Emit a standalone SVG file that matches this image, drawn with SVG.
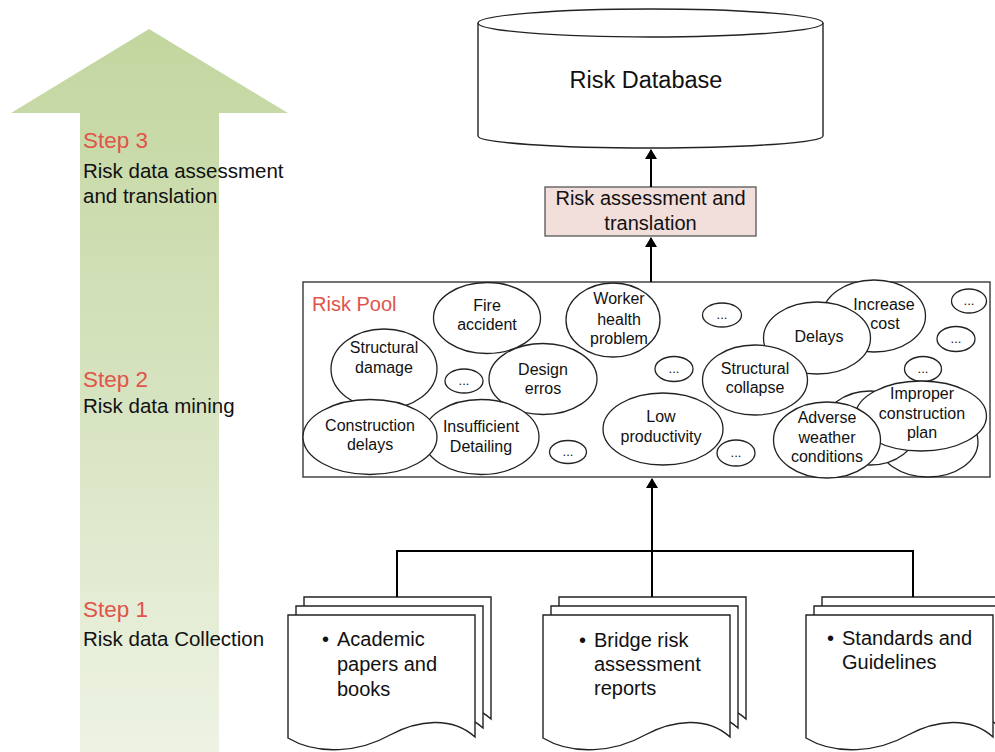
<svg xmlns="http://www.w3.org/2000/svg" width="995" height="752" viewBox="0 0 995 752">
  <defs>
    <linearGradient id="stepFill" x1="0" y1="0" x2="0" y2="1">
      <stop offset="0" stop-color="#c3d69f"/>
      <stop offset="0.5" stop-color="#d6e3bf"/>
      <stop offset="1" stop-color="#eef3e4"/>
    </linearGradient>
    <marker id="head" viewBox="0 0 10 12" refX="9" refY="6" markerWidth="10" markerHeight="12" markerUnits="userSpaceOnUse" orient="auto">
      <path d="M0,0 L10,6 L0,12 Z" fill="#000"/>
    </marker>
    <path id="doc" d="M0,0 H187 V122 C164,101 130,105 102,120 C72,137 30,141 0,123 Z"/>
  </defs>
  <style>
    text { font-family: "Liberation Sans", Arial, Helvetica, sans-serif; fill: #111; }
    .step { font-size: 22.5px; fill: #e0544a; }
    .desc { font-size: 20.5px; }
    .bub { fill: #fff; stroke: #222; stroke-width: 1.3; }
    .bt { font-size: 16px; text-anchor: middle; }
    .dots { font-size: 13px; text-anchor: middle; }
    .page { fill: #fff; stroke: #222; stroke-width: 1.4; }
    .doct { font-size: 20px; }
    .wire { fill: none; stroke: #000; stroke-width: 2; }
  </style>

  <!-- progress arrow with step captions -->
  <g id="progress">
    <path d="M149,29 L288,113 L219,113 L219,752 L80,752 L80,113 L11,113 Z" fill="url(#stepFill)"/>
    <text class="step" x="83" y="148">Step 3</text>
    <text class="desc" x="83" y="178">Risk data assessment</text>
    <text class="desc" x="83" y="203">and translation</text>
    <text class="step" x="83" y="387">Step 2</text>
    <text class="desc" x="83" y="413">Risk data mining</text>
    <text class="step" x="83" y="617">Step 1</text>
    <text class="desc" x="83" y="646">Risk data Collection</text>
  </g>

  <!-- database cylinder -->
  <g id="risk-database">
    <path d="M478,23 V136 A172.5,12 0 0 0 823,136 V23" fill="#fff" stroke="#222" stroke-width="1.4"/>
    <ellipse cx="650.5" cy="23" rx="172.5" ry="14" fill="#fff" stroke="#222" stroke-width="1.4"/>
    <text x="646" y="88" font-size="23.5" text-anchor="middle">Risk Database</text>
  </g>

  <!-- assessment step -->
  <g id="assessment">
    <rect x="545" y="187" width="211" height="49" fill="#f2dedb" stroke="#555" stroke-width="1.3"/>
    <text x="650.5" y="205" font-size="20" text-anchor="middle">Risk assessment and</text>
    <text x="650.5" y="230" font-size="20" text-anchor="middle">translation</text>
  </g>

  <!-- pool of mined risks -->
  <g id="risk-pool">
    <rect x="303" y="282" width="687" height="195" fill="#fff" stroke="#444" stroke-width="1.5"/>
    <text x="312" y="311" font-size="20" style="fill:#e0544a">Risk Pool</text>

    <ellipse class="bub" cx="487" cy="318" rx="53.5" ry="35.5"/>
    <ellipse class="bub" cx="384" cy="369" rx="53" ry="40"/>
    <ellipse class="bub" cx="613" cy="320" rx="47" ry="37"/>
    <ellipse class="bub" cx="543" cy="379" rx="54" ry="35.5"/>
    <ellipse class="bub" cx="464" cy="381" rx="19" ry="12"/>
    <ellipse class="bub" cx="481" cy="437" rx="58" ry="37.5"/>
    <ellipse class="bub" cx="370" cy="437" rx="67" ry="37.5"/>
    <ellipse class="bub" cx="568" cy="452" rx="18.5" ry="11.5"/>
    <ellipse class="bub" cx="663" cy="429" rx="60" ry="36"/>
    <ellipse class="bub" cx="722" cy="315" rx="19.5" ry="12"/>
    <ellipse class="bub" cx="674" cy="369" rx="19" ry="12.5"/>
    <ellipse class="bub" cx="736" cy="453" rx="19" ry="13"/>
    <ellipse class="bub" cx="874" cy="316" rx="51.5" ry="36"/>
    <ellipse class="bub" cx="817" cy="338" rx="53.5" ry="36"/>
    <ellipse class="bub" cx="755" cy="380" rx="52.5" ry="35"/>
    <ellipse class="bub" cx="969" cy="301" rx="17.5" ry="12"/>
    <ellipse class="bub" cx="956" cy="339" rx="19" ry="12.5"/>
    <ellipse class="bub" cx="923" cy="369" rx="18.5" ry="12.5"/>
    <ellipse class="bub" cx="928" cy="442" rx="50" ry="35"/>
    <ellipse class="bub" cx="870" cy="428" rx="47.5" ry="37"/>
    <ellipse class="bub" cx="921" cy="416" rx="65.5" ry="35"/>
    <ellipse class="bub" cx="827" cy="440" rx="53.5" ry="38"/>

    <text class="bt" x="487" y="311">Fire</text>
    <text class="bt" x="487" y="330">accident</text>
    <text class="bt" x="384" y="353">Structural</text>
    <text class="bt" x="384" y="373">damage</text>
    <text class="bt" x="619" y="304">Worker</text>
    <text class="bt" x="619" y="325">health</text>
    <text class="bt" x="619" y="344">problem</text>
    <text class="bt" x="543" y="375">Design</text>
    <text class="bt" x="543" y="394">erros</text>
    <text class="bt" x="481" y="432">Insufficient</text>
    <text class="bt" x="481" y="452">Detailing</text>
    <text class="bt" x="370" y="431">Construction</text>
    <text class="bt" x="370" y="450">delays</text>
    <text class="bt" x="661" y="422">Low</text>
    <text class="bt" x="661" y="442">productivity</text>
    <text class="bt" x="884" y="310">Increase</text>
    <text class="bt" x="885" y="329">cost</text>
    <text class="bt" x="819" y="342">Delays</text>
    <text class="bt" x="755" y="374">Structural</text>
    <text class="bt" x="755" y="393">collapse</text>
    <text class="bt" x="922" y="399">Improper</text>
    <text class="bt" x="922" y="419">construction</text>
    <text class="bt" x="922" y="438">plan</text>
    <text class="bt" x="827" y="423">Adverse</text>
    <text class="bt" x="827" y="443">weather</text>
    <text class="bt" x="827" y="462">conditions</text>

    <text class="dots" x="464" y="385">...</text>
    <text class="dots" x="568" y="456">...</text>
    <text class="dots" x="722" y="319">...</text>
    <text class="dots" x="674" y="373">...</text>
    <text class="dots" x="736" y="457">...</text>
    <text class="dots" x="969" y="305">...</text>
    <text class="dots" x="956" y="343">...</text>
    <text class="dots" x="923" y="373">...</text>
  </g>

  <!-- source document stacks -->
  <g id="academic">
    <use href="#doc" class="page" x="304" y="597"/>
    <use href="#doc" class="page" x="296" y="606"/>
    <use href="#doc" class="page" x="288" y="615"/>
    <text class="doct" x="322" y="646">•</text>
    <text class="doct" x="337" y="646">Academic</text>
    <text class="doct" x="337" y="671">papers and</text>
    <text class="doct" x="337" y="696">books</text>
  </g>
  <g id="bridge-reports">
    <use href="#doc" class="page" x="559" y="597"/>
    <use href="#doc" class="page" x="551" y="606"/>
    <use href="#doc" class="page" x="543" y="615"/>
    <text class="doct" x="579" y="647">•</text>
    <text class="doct" x="594" y="647">Bridge risk</text>
    <text class="doct" x="594" y="671">assessment</text>
    <text class="doct" x="594" y="695">reports</text>
  </g>
  <g id="standards">
    <use href="#doc" class="page" x="822" y="597"/>
    <use href="#doc" class="page" x="814" y="606"/>
    <use href="#doc" class="page" x="806" y="615"/>
    <text class="doct" x="827" y="645">•</text>
    <text class="doct" x="842" y="645">Standards and</text>
    <text class="doct" x="842" y="669">Guidelines</text>
  </g>

  <!-- connectors -->
  <g id="connectors">
    <path class="wire" d="M397,597 V551 H913 V597"/>
    <path class="wire" d="M652,597 V479" marker-end="url(#head)"/>
    <path class="wire" d="M651,282 V238" marker-end="url(#head)"/>
    <path class="wire" d="M651,187 V150" marker-end="url(#head)"/>
  </g>
</svg>
